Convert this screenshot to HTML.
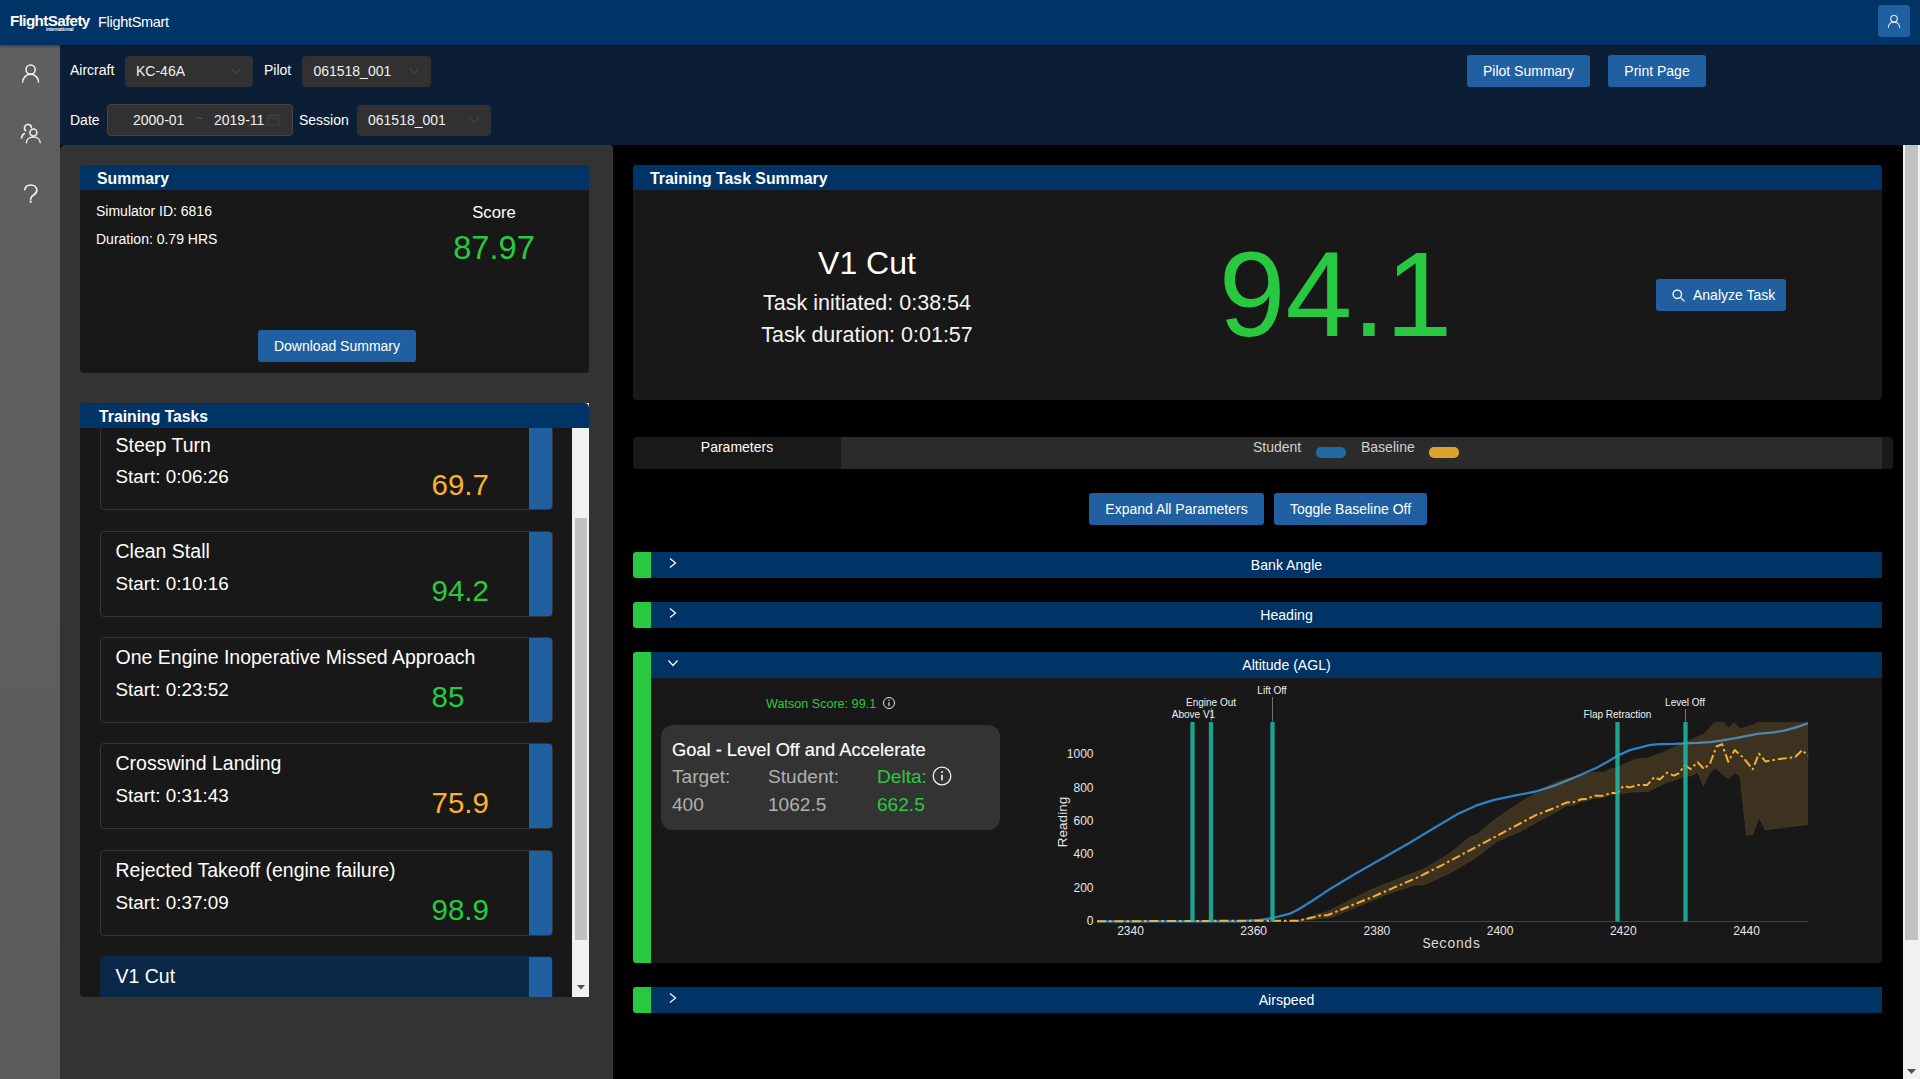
<!DOCTYPE html>
<html lang="en">
<head>
<meta charset="utf-8">
<title>FlightSmart</title>
<style>
*{box-sizing:border-box;margin:0;padding:0}
html,body{width:1920px;height:1079px;overflow:hidden;background:#000;font-family:"Liberation Sans",Arial,sans-serif;color:#fff;font-size:14px}
.abs{position:absolute}
#topbar{position:absolute;left:0;top:0;width:1920px;height:45px;background:#003366;box-shadow:0 1px 3px rgba(0,0,0,.45);z-index:5}
#logo{position:absolute;left:10px;top:11.5px;font-weight:bold;font-size:15.2px;letter-spacing:-0.6px;line-height:18px;color:#fff}
#logo-int{position:absolute;left:46px;top:27px;font-size:4.6px;font-weight:bold;letter-spacing:0;line-height:6px;color:#fff}
#appname{position:absolute;left:98px;top:12px;font-size:14.5px;letter-spacing:-0.3px;line-height:20px;color:#fff}
#userbtn{position:absolute;left:1878px;top:5px;width:32px;height:32px;background:#2160a0;border-radius:3px}
#sidebar{position:absolute;left:0;top:45px;width:60px;height:1034px;background:linear-gradient(#5f5f5f,#5c5c5c)}
#filters{position:absolute;left:60px;top:45px;width:1860px;height:100px;background:#0c1e35}
.lbl{position:absolute;font-size:14px;line-height:20px;color:#fff;white-space:nowrap}
.sel{position:absolute;height:31px;background:#313131;border-radius:4px;font-size:14px;line-height:31px;color:#f0f0f0;padding-left:11px;white-space:nowrap}
.sel svg{position:absolute;right:11px;top:9px}
.btn{position:absolute;height:32px;background:#2160a0;border-radius:3px;font-size:14px;line-height:32px;color:#fff;text-align:center;white-space:nowrap}
#leftpanel{position:absolute;left:60px;top:145px;width:553px;height:934px;background:#333333;border-top-left-radius:5px;border-top-right-radius:3px}
#rightpanel{position:absolute;left:613px;top:145px;width:1290px;height:934px;background:#000}
.card{position:absolute;background:#181818;border-radius:4px;overflow:hidden}
.card-h{position:absolute;left:0;top:0;right:0;background:#003366;font-weight:bold;font-size:16px;color:#fff;white-space:nowrap}
.green{color:#28c940}
.orange{color:#fbb12b}
.task{position:absolute;left:20px;width:453px;height:85.7px;border:1px solid #343434;border-radius:4px;overflow:hidden;background:#181818}
.task .strip{position:absolute;right:0;top:0;width:23px;height:100%;background:#2160a0}
.task .t1{position:absolute;left:14.5px;top:7.8px;font-size:19.5px;line-height:22px;white-space:nowrap}
.task .t2{position:absolute;left:14.5px;top:40.6px;font-size:18.85px;line-height:22px;white-space:nowrap}
.task .sc{position:absolute;left:330.5px;top:41.8px;font-size:29.5px;line-height:34px;white-space:nowrap}
.acc-g{position:absolute;left:633px;width:18px;background:#28c940;border-radius:3px 0 0 3px}
.acc-h{position:absolute;left:651px;width:1231px;height:26px;background:#003366;font-size:14px;line-height:26px;color:#fff}
.acc-h span{position:absolute;left:0;width:1271px;text-align:center;font-size:14.1px}
.acc-h svg{position:absolute;left:16px;top:5px}
</style>
</head>
<body>
<!-- TOP BAR -->
<div id="topbar">
  <div id="logo">FlightSafety</div>
  <div id="logo-int">international</div>
  <div id="appname">FlightSmart</div>
  <div id="userbtn">
    <svg width="32" height="32" viewBox="0 0 32 32" fill="none" stroke="#ececec" stroke-width="1.150"><circle cx="16" cy="13.800" r="3.300"/><path d="M10.300 22.800c0-3.400 2.500-5.600 5.700-5.600s5.700 2.200 5.700 5.600"/></svg>
  </div>
</div>

<!-- SIDEBAR -->
<div id="sidebar">
  <svg class="abs" style="left:18px;top:16px" width="26" height="26" viewBox="0 0 26 26" fill="none" stroke="#f2f2f2" stroke-width="1.500"><circle cx="12.6" cy="8.6" r="4.6"/><path d="M4.6 21.6c0-4.9 3.6-8.3 8-8.3s8 3.4 8 8.3"/></svg>
  <svg class="abs" style="left:17px;top:75px" width="28" height="28" viewBox="0 0 28 28" fill="none" stroke="#f2f2f2" stroke-width="1.500"><circle cx="16.400" cy="12.500" r="3.500"/><path d="M9.300 23.200c0-3.700 3-6.200 7-6.200s7 2.500 7 6.200"/><path d="M9.250 11.030A3.500 3.500 0 1 1 14.450 8.300"/><path d="M4.400 18.700c.3-2.700 1.500-4.600 3.400-5.500"/></svg>
  <svg class="abs" style="left:18px;top:135px" width="26" height="30" viewBox="0 0 26 30" fill="none" stroke="#f2f2f2" stroke-width="1.700"><path d="M6.700 10.200C6.700 6.900 9.300 5 12.700 5S18.800 7 18.800 10.300C18.800 12.800 17.300 14.100 15.600 15.100C13.700 16.200 12.700 17.100 12.700 18.800V19.700"/><circle cx="12.700" cy="21.700" r="1.150" fill="#f2f2f2" stroke="none"/></svg>
</div>

<!-- FILTER BAR -->
<div id="filters">
  <div class="lbl" style="left:10px;top:15px">Aircraft</div>
  <div class="sel" style="left:65px;top:10.5px;width:128px">KC-46A<svg width="12" height="12" viewBox="0 0 12 12" fill="none" stroke="#444" stroke-width="1.200"><path d="M1.500 3.500l4.500 5 4.500-5"/></svg></div>
  <div class="lbl" style="left:204px;top:15px">Pilot</div>
  <div class="sel" style="left:242.400px;top:10.5px;width:129px">061518_001<svg width="12" height="12" viewBox="0 0 12 12" fill="none" stroke="#444" stroke-width="1.200"><path d="M1.500 3.500l4.500 5 4.500-5"/></svg></div>
  <div class="lbl" style="left:10px;top:65px">Date</div>
  <div class="sel" style="left:47px;top:59px;width:186px;height:32px;line-height:30px;border:1px solid #454545;padding-left:0">
    <span class="abs" style="left:25px;top:0">2000-01</span>
    <span class="abs" style="left:87px;top:-2px;color:#555">~</span>
    <span class="abs" style="left:106px;top:0">2019-11</span>
    <svg style="right:12.500px;top:8px" width="13" height="13" viewBox="0 0 13 13" fill="none" stroke="#434343" stroke-width="1"><rect x="1" y="2.500" width="11" height="9.500"/><path d="M1 5.500h11M4 .8v3M9 .8v3"/></svg>
  </div>
  <div class="lbl" style="left:239px;top:65px">Session</div>
  <div class="sel" style="left:297px;top:59.5px;width:134.300px">061518_001<svg width="12" height="12" viewBox="0 0 12 12" fill="none" stroke="#444" stroke-width="1.200"><path d="M1.500 3.500l4.500 5 4.500-5"/></svg></div>
  <div class="btn" style="left:1407px;top:10px;width:123px">Pilot Summary</div>
  <div class="btn" style="left:1548px;top:10px;width:98px">Print Page</div>
</div>

<!-- LEFT PANEL -->
<div id="leftpanel">
  <!-- Summary card -->
  <div class="card" style="left:20px;top:20px;width:509px;height:208px">
    <div class="card-h" style="height:25px;line-height:27px;padding-left:17px;font-size:15.8px">Summary</div>
    <div class="lbl" style="left:16px;top:36px">Simulator ID: 6816</div>
    <div class="lbl" style="left:16px;top:64px">Duration: 0.79 HRS</div>
    <div class="abs" style="left:364px;top:37px;width:100px;text-align:center;font-size:16.7px;line-height:22px">Score</div>
    <div class="abs green" style="left:344px;top:62.5px;width:140px;text-align:center;font-size:32.6px;line-height:40px">87.97</div>
    <div class="btn" style="left:178px;top:165px;width:158px">Download Summary</div>
  </div>
  <!-- Training tasks card -->
  <div class="card" style="left:20px;top:258px;width:509px;height:594px;border-radius:4px 0 0 4px">
    <div class="abs" style="left:0;top:24px;width:509px;height:570px;overflow:hidden">
      <div class="task" style="top:-2.3px"><div class="t1">Steep Turn</div><div class="t2">Start: 0:06:26</div><div class="sc orange">69.7</div><div class="strip"></div></div>
      <div class="task" style="top:104px"><div class="t1">Clean Stall</div><div class="t2">Start: 0:10:16</div><div class="sc green">94.2</div><div class="strip"></div></div>
      <div class="task" style="top:210.3px"><div class="t1">One Engine Inoperative Missed Approach</div><div class="t2">Start: 0:23:52</div><div class="sc green">85</div><div class="strip"></div></div>
      <div class="task" style="top:316.3px"><div class="t1">Crosswind Landing</div><div class="t2">Start: 0:31:43</div><div class="sc orange">75.9</div><div class="strip"></div></div>
      <div class="task" style="top:423px"><div class="t1">Rejected Takeoff (engine failure)</div><div class="t2">Start: 0:37:09</div><div class="sc green">98.9</div><div class="strip"></div></div>
      <div class="task" style="top:529.3px;background:#0c2848;border-color:#0c2848"><div class="t1">V1 Cut</div><div class="t2">Start: 0:38:54</div><div class="sc green">94.1</div><div class="strip"></div></div>
      <!-- inner scrollbar -->
      <div class="abs" style="left:492px;top:0;width:17px;height:570px;background:#f1f1f1"></div>
      <div class="abs" style="left:495px;top:91px;width:12px;height:422px;background:#c1c1c1"></div>
      <svg class="abs" style="left:497px;top:558px" width="8" height="5" viewBox="0 0 8 5"><path d="M0 0h8l-4 4.500z" fill="#505050"/></svg>
    </div>
    <div class="abs" style="left:504px;top:0;width:5px;height:5px;background:#fff"></div>
    <div class="card-h" style="height:25px;line-height:27px;padding-left:19px;border-radius:4px 4.5px 0 0;font-size:15.75px">Training Tasks</div>
  </div>
</div>

<!-- RIGHT PANEL -->
<div id="rightpanel"></div>
<!-- main scrollbar -->
<div class="abs" style="left:1903px;top:145px;width:17px;height:934px;background:#f1f1f1"></div>
<div class="abs" style="left:1905px;top:145px;width:13px;height:795px;background:#c1c1c1"></div>
<svg class="abs" style="left:1907px;top:1069px" width="9" height="6" viewBox="0 0 9 6"><path d="M0 0h9l-4.500 5z" fill="#505050"/></svg>

<!-- Training Task Summary card -->
<div class="card" style="left:633px;top:165px;width:1249px;height:235px">
  <div class="card-h" style="height:25px;line-height:28px;padding-left:17px;font-size:15.85px">Training Task Summary</div>
  <div class="abs" style="left:84px;top:78px;width:300px;text-align:center;font-size:32px;line-height:40px">V1 Cut</div>
  <div class="abs" style="left:34px;top:123px;width:400px;text-align:center;font-size:21.5px;line-height:30px;color:#f4f4f4">Task initiated: 0:38:54</div>
  <div class="abs" style="left:34px;top:154.7px;width:400px;text-align:center;font-size:21.5px;line-height:30px;color:#f4f4f4">Task duration: 0:01:57</div>
  <div class="abs green" style="left:585.7px;top:59px;white-space:nowrap;font-size:120px;line-height:140px">94.1</div>
  <div class="btn" style="left:1023px;top:114px;width:130px;text-align:left;padding-left:37px">
    <svg class="abs" style="left:15px;top:9px" width="15" height="15" viewBox="0 0 15 15" fill="none" stroke="#fff" stroke-width="1.300"><circle cx="6.300" cy="6.300" r="4.200"/><path d="M9.400 9.400l4 4"/></svg>Analyze Task</div>
</div>

<!-- Tabs bar -->
<div class="abs" style="left:633px;top:437px;width:1260px;height:32px;background:#191919;border-radius:4px"></div>
<div class="abs" style="left:841px;top:437px;width:1041px;height:32px;background:#2b2b2b"></div>
<div class="abs" style="left:633px;top:437px;width:208px;height:20px;line-height:20px;text-align:center;font-size:14px;color:#fff">Parameters</div>
<div class="abs" style="left:1253px;top:437px;line-height:20px;font-size:14px;color:#d0d0d0">Student</div>
<div class="abs" style="left:1316px;top:447px;width:30px;height:11px;border-radius:5px;background:#1f6aa5"></div>
<div class="abs" style="left:1361px;top:437px;line-height:20px;font-size:14px;color:#d0d0d0">Baseline</div>
<div class="abs" style="left:1429px;top:447px;width:30px;height:11px;border-radius:5px;background:#dca42c"></div>

<div class="btn" style="left:1089px;top:493px;width:175px">Expand All Parameters</div>
<div class="btn" style="left:1274px;top:493px;width:153px">Toggle Baseline Off</div>

<!-- Accordions -->
<div class="acc-g" style="top:552px;height:26px"></div>
<div class="acc-h" style="top:552px"><svg width="12" height="12" viewBox="0 0 12 12" fill="none" stroke="#fff" stroke-width="1.200"><path d="M3 1.500l5.500 4.500-5.500 4.500"/></svg><span>Bank Angle</span></div>
<div class="acc-g" style="top:602px;height:26px"></div>
<div class="acc-h" style="top:602px"><svg width="12" height="12" viewBox="0 0 12 12" fill="none" stroke="#fff" stroke-width="1.200"><path d="M3 1.500l5.500 4.500-5.500 4.500"/></svg><span>Heading</span></div>
<div class="acc-g" style="top:652px;height:311px"></div>
<div class="acc-h" style="top:652px"><svg width="12" height="12" viewBox="0 0 12 12" fill="none" stroke="#fff" stroke-width="1.200"><path d="M1.500 3.500l4.500 5 4.500-5"/></svg><span>Altitude (AGL)</span></div>
<div class="abs" id="altbody" style="left:651px;top:678px;width:1231px;height:285px;background:#181818;border-radius:0 0 4px 0"></div>
<div class="acc-g" style="top:987px;height:26px"></div>
<div class="acc-h" style="top:987px"><svg width="12" height="12" viewBox="0 0 12 12" fill="none" stroke="#fff" stroke-width="1.200"><path d="M3 1.500l5.500 4.500-5.500 4.500"/></svg><span>Airspeed</span></div>

<!-- Altitude body content -->
<div class="abs green" style="left:766px;top:695.6px;font-size:12.6px;line-height:16px;white-space:nowrap">Watson Score: 99.1</div>
<svg class="abs" style="left:882px;top:696px" width="14" height="14" viewBox="0 0 14 14" fill="none" stroke="#e8e8e8" stroke-width="1"><circle cx="7" cy="7" r="5.500"/><path d="M7 6.200v3.800" stroke-width="1.200"/><circle cx="7" cy="4.300" r=".7" fill="#e8e8e8" stroke="none"/></svg>
<div class="abs" style="left:661px;top:725px;width:339px;height:105px;background:#333;border-radius:12px"></div>
<div class="abs" style="left:672px;top:739px;font-size:18.3px;line-height:22px;white-space:nowrap;color:#fff;-webkit-text-stroke:0.15px #fff">Goal - Level Off and Accelerate</div>
<div class="abs" style="left:672px;top:765.7px;font-size:19.1px;line-height:22px;color:#b0b0b0">Target:</div>
<div class="abs" style="left:768px;top:765.7px;font-size:19.1px;line-height:22px;color:#b0b0b0">Student:</div>
<div class="abs green" style="left:877px;top:765.7px;font-size:19.1px;line-height:22px">Delta:</div>
<svg class="abs" style="left:931px;top:765px" width="22" height="22" viewBox="0 0 22 22" fill="none" stroke="#f0f0f0" stroke-width="1.300"><circle cx="11" cy="11" r="8.800"/><path d="M11 9.800v5.600" stroke-width="1.600"/><circle cx="11" cy="6.900" r="1" fill="#f0f0f0" stroke="none"/></svg>
<div class="abs" style="left:672px;top:793.7px;font-size:19.1px;line-height:22px;color:#b0b0b0">400</div>
<div class="abs" style="left:768px;top:793.7px;font-size:19.1px;line-height:22px;color:#b0b0b0">1062.5</div>
<div class="abs green" style="left:877px;top:793.7px;font-size:19.1px;line-height:22px">662.5</div>

<!-- CHART -->
<svg class="abs" id="chart" style="left:1040px;top:678px" width="842" height="285" viewBox="1040 678 842 285" font-family="Liberation Sans, Arial, sans-serif">
<text x="1093.5" y="758.2" font-size="12" fill="#e6e6e6" text-anchor="end">1000</text>
<text x="1093.5" y="792.2" font-size="12" fill="#e6e6e6" text-anchor="end">800</text>
<text x="1093.5" y="825.2" font-size="12" fill="#e6e6e6" text-anchor="end">600</text>
<text x="1093.5" y="858.2" font-size="12" fill="#e6e6e6" text-anchor="end">400</text>
<text x="1093.5" y="892.2" font-size="12" fill="#e6e6e6" text-anchor="end">200</text>
<text x="1093.5" y="925.2" font-size="12" fill="#e6e6e6" text-anchor="end">0</text>
<text x="1130.5" y="935" font-size="12" fill="#e6e6e6" text-anchor="middle">2340</text>
<text x="1253.7" y="935" font-size="12" fill="#e6e6e6" text-anchor="middle">2360</text>
<text x="1376.9" y="935" font-size="12" fill="#e6e6e6" text-anchor="middle">2380</text>
<text x="1500.1" y="935" font-size="12" fill="#e6e6e6" text-anchor="middle">2400</text>
<text x="1623.3" y="935" font-size="12" fill="#e6e6e6" text-anchor="middle">2420</text>
<text x="1746.5" y="935" font-size="12" fill="#e6e6e6" text-anchor="middle">2440</text>
<text x="1451.5" y="948" font-size="13.800" fill="#d8d8d8" text-anchor="middle" style="font-family:'Liberation Mono','Courier New',monospace">Seconds</text>
<text transform="translate(1067,822) rotate(-90)" font-size="13.500" fill="#e6e6e6" text-anchor="middle">Reading</text>
<path d="M1097 921.500H1808.500" stroke="#444" stroke-width="1"/>
<polyline points="1097.0,921.3 1240.0,921.3 1260.0,919.9 1272.6,918.0 1289.9,913.6 1297.8,909.7 1312.0,901.0 1330.9,888.4 1354.5,874.2 1378.2,860.8 1409.7,842.7 1433.3,828.5 1456.9,814.4 1475.9,805.7 1493.2,800.2 1512.1,796.2 1535.7,791.5 1555.8,785.1 1571.5,778.8 1584.1,773.3 1596.7,767.7 1609.3,760.7 1618.8,755.1 1629.8,750.1 1640.8,747.3 1650.3,744.9 1659.7,744.1 1673.9,743.8 1685.0,743.3 1697.6,742.9 1710.2,742.2 1721.2,740.6 1736.9,737.8 1757.4,733.9 1773.2,732.3 1784.2,730.7 1795.2,727.6 1807.8,723.3" fill="none" stroke="#2b82c6" stroke-width="2.300" stroke-linejoin="round"/>
<polygon points="1297.8,920.4 1319.9,913.6 1326.2,912.0 1346.7,901.8 1370.3,890.0 1393.9,880.5 1425.4,867.9 1449.1,853.7 1469.5,837.2 1477.4,834.1 1496.3,818.3 1524.7,799.4 1555.8,781.9 1568.4,778.0 1579.4,775.6 1592.0,772.5 1604.6,772.2 1610.9,768.5 1617.2,767.7 1625.1,763.8 1634.5,759.6 1642.4,758.3 1648.7,758.0 1656.6,754.4 1662.9,752.8 1670.8,748.8 1678.6,744.9 1691.3,739.4 1703.9,733.9 1709.4,728.4 1714.1,722.4 1723.6,722.4 1728.3,728.0 1733.8,722.4 1740.1,728.7 1752.7,724.9 1757.4,722.4 1807.8,722.4 1807.8,824.5 1765.3,830.0 1759.0,817.4 1752.7,834.7 1746.4,834.7 1742.5,800.8 1740.1,776.4 1734.6,772.8 1728.3,778.5 1721.2,773.3 1715.7,767.7 1709.4,773.3 1703.5,786.3 1697.6,772.2 1691.3,775.9 1685.0,776.4 1673.9,780.4 1666.0,782.7 1656.6,787.4 1648.7,791.4 1631.4,792.2 1618.8,793.7 1610.9,795.3 1603.0,797.7 1593.6,798.5 1587.3,800.8 1581.0,801.6 1573.9,805.2 1566.8,805.6 1555.8,811.9 1520.0,831.7 1496.3,841.9 1472.7,860.0 1449.1,873.4 1425.4,884.5 1414.4,885.3 1386.0,894.7 1354.5,908.1 1330.9,917.6 1323.0,918.3 1297.8,921.0" fill="#e8a848" fill-opacity="0.18" stroke="#e8a848" stroke-opacity="0.1" stroke-width="1"/>
<path d="M1272.500 697V721.500M1685.500 709V721.500M1211.300 708v13" stroke="#8a8a8a" stroke-width="0.8"/>
<text x="1272" y="693.9" font-size="10" fill="#f0f0f0" text-anchor="middle">Lift Off</text>
<text x="1211" y="705.9" font-size="10" fill="#f0f0f0" text-anchor="middle">Engine Out</text>
<text x="1193.5" y="717.9" font-size="10" fill="#f0f0f0" text-anchor="middle">Above V1</text>
<text x="1617.5" y="717.9" font-size="10" fill="#f0f0f0" text-anchor="middle">Flap Retraction</text>
<text x="1685" y="705.9" font-size="10" fill="#f0f0f0" text-anchor="middle">Level Off</text>
<polyline points="1097.0,921.3 1260.0,920.7 1297.8,920.7 1312.0,917.6 1321.4,915.2 1327.7,915.2 1346.7,907.3 1370.3,897.9 1393.9,887.6 1417.6,877.4 1441.2,865.6 1464.8,853.0 1488.5,840.4 1512.1,827.7 1535.7,815.1 1552.6,808.7 1566.8,802.4 1573.9,802.1 1581.0,799.3 1587.3,798.9 1593.6,795.8 1603.0,795.8 1610.9,793.0 1617.2,793.0 1623.5,785.9 1629.8,787.4 1637.7,785.1 1647.1,785.1 1654.2,777.2 1659.7,779.6 1666.8,772.8 1673.9,775.6 1678.6,773.3 1685.0,765.4 1690.5,769.0 1697.6,762.2 1703.9,769.0 1710.2,763.0 1716.5,746.5 1722.0,744.1 1728.3,761.8 1734.6,750.1 1743.2,757.5 1752.7,769.3 1759.0,753.6 1765.3,761.4 1779.5,759.1 1795.2,757.0 1802.3,750.1 1807.8,755.9" fill="none" stroke="#f2b22e" stroke-width="2" stroke-dasharray="9 3 2.500 3" stroke-linejoin="round"/>
<rect x="1190.35" y="722" width="4.300" height="199.500" fill="#1fb5a0" fill-opacity="0.88"/>
<rect x="1208.85" y="722" width="4.300" height="199.500" fill="#1fb5a0" fill-opacity="0.88"/>
<rect x="1270.35" y="722" width="4.300" height="199.500" fill="#1fb5a0" fill-opacity="0.88"/>
<rect x="1615.35" y="722" width="4.300" height="199.500" fill="#1fb5a0" fill-opacity="0.88"/>
<rect x="1683.35" y="722" width="4.300" height="199.500" fill="#1fb5a0" fill-opacity="0.88"/>
</svg>
</body>
</html>
